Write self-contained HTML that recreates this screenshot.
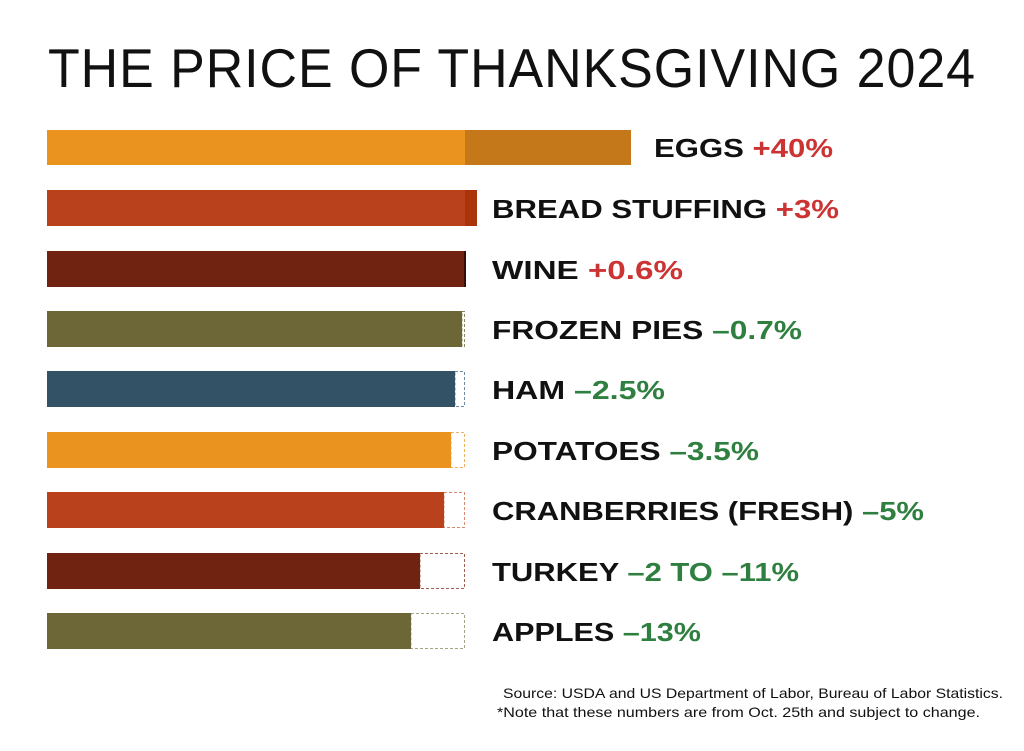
<!DOCTYPE html>
<html><head><style>body{margin:0;background:#fff}</style></head><body>
<svg width="1024" height="746" xmlns="http://www.w3.org/2000/svg" font-family="Liberation Sans, sans-serif">
<rect width="1024" height="746" fill="#fff"/>
<text x="48" y="87" font-size="55" fill="#111" textLength="928" lengthAdjust="spacingAndGlyphs" letter-spacing="1">THE PRICE OF THANKSGIVING 2024</text>
<g font-weight="bold" font-size="26">
<rect x="47" y="130" width="418" height="35" fill="#ea931e"/>
<rect x="465" y="130" width="166" height="35" fill="#c4781a"/>
<text x="654" y="157" fill="#111" textLength="179" lengthAdjust="spacingAndGlyphs">EGGS <tspan fill="#cc3333">+40%</tspan></text>

<rect x="47" y="190" width="418" height="36" fill="#b9421c"/>
<rect x="465" y="190" width="12" height="36" fill="#aa3309"/>
<text x="492" y="218" fill="#111" textLength="347" lengthAdjust="spacingAndGlyphs">BREAD STUFFING <tspan fill="#cc3333">+3%</tspan></text>

<rect x="47" y="251" width="419" height="36" fill="#712312"/>
<rect x="464" y="251" width="2" height="36" fill="#3a0c06"/>
<text x="492" y="279" fill="#111" textLength="191" lengthAdjust="spacingAndGlyphs">WINE <tspan fill="#cc3333">+0.6%</tspan></text>

<g fill="none" stroke-dasharray="3,2" stroke-width="1">
<rect x="462" y="311.5" width="2.5" height="35" stroke="#8b8560"/>
<rect x="455" y="371.5" width="9.5" height="35" stroke="#6f8aa0"/>
<rect x="451" y="432.5" width="13.5" height="35" stroke="#f0b060"/>
<rect x="444" y="492.5" width="20.5" height="35" stroke="#d88a70"/>
<rect x="420" y="553.5" width="44.5" height="35" stroke="#a06050"/>
<rect x="411" y="613.5" width="53.5" height="35" stroke="#a8a488"/>
</g>
<rect x="47" y="311" width="415" height="36" fill="#6d6636"/>
<text x="492" y="339" fill="#111" textLength="310" lengthAdjust="spacingAndGlyphs">FROZEN PIES <tspan fill="#2f8040">–0.7%</tspan></text>
<rect x="47" y="371" width="408" height="36" fill="#345266"/>
<text x="492" y="399" fill="#111" textLength="173" lengthAdjust="spacingAndGlyphs">HAM <tspan fill="#2f8040">–2.5%</tspan></text>
<rect x="47" y="432" width="404" height="36" fill="#ea931e"/>
<text x="492" y="460" fill="#111" textLength="267" lengthAdjust="spacingAndGlyphs">POTATOES <tspan fill="#2f8040">–3.5%</tspan></text>
<rect x="47" y="492" width="397" height="36" fill="#b9421c"/>
<text x="492" y="520" fill="#111" textLength="432" lengthAdjust="spacingAndGlyphs">CRANBERRIES (FRESH) <tspan fill="#2f8040">–5%</tspan></text>
<rect x="47" y="553" width="373" height="36" fill="#712312"/>
<text x="492" y="581" fill="#111" textLength="307" lengthAdjust="spacingAndGlyphs">TURKEY <tspan fill="#2f8040">–2 TO –11%</tspan></text>
<rect x="47" y="613" width="364" height="36" fill="#6d6636"/>
<text x="492" y="641" fill="#111" textLength="209" lengthAdjust="spacingAndGlyphs">APPLES <tspan fill="#2f8040">–13%</tspan></text>
</g>
<g font-size="14" fill="#111">
<text x="503" y="698" textLength="500" lengthAdjust="spacingAndGlyphs">Source: USDA and US Department of Labor, Bureau of Labor Statistics.</text>
<text x="497" y="717" textLength="483" lengthAdjust="spacingAndGlyphs">*Note that these numbers are from Oct. 25th and subject to change.</text>
</g>
</svg>
</body></html>
